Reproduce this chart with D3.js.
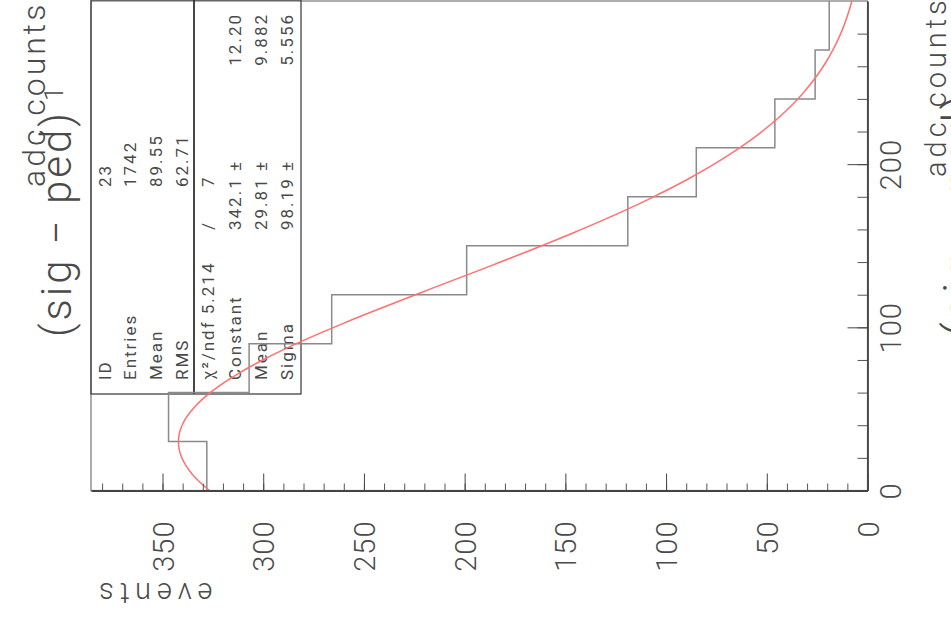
<!DOCTYPE html>
<html>
<head>
<meta charset="utf-8">
<script src="https://cdnjs.cloudflare.com/ajax/libs/d3/7.8.5/d3.min.js"></script>
<style>
  body { margin: 0; background: #fff; overflow: hidden; }
  svg text { font-family: 'Roboto', 'Liberation Sans', sans-serif; font-weight: 300; fill: #4a4a4a; }
</style>
</head>
<body>
<div id="chart"></div>
<script>

// histogram of (sig - ped)1, 10 bins of 30 adc counts
const binEdges = [0, 30, 60, 90, 120, 150, 180, 210, 240, 270, 300];
const binCounts = [328, 347, 307, 266, 199, 119, 85, 46, 26, 19];

const adcTicks = [0, 100, 200];
const eventTicks = [0, 50, 100, 150, 200, 250, 300, 350];

const statLabels = ['ID', 'Entries', 'Mean', 'RMS'];
const statValues = ['23', '1742', '89.55', '62.71'];

const fitLabels = ['χ²/ndf 5.214', 'Constant', 'Mean', 'Sigma'];
const fitValues = ['/', '342.1 ±', '29.81 ±', '98.19 ±'];
const fitErrors = ['7', '12.20', '9.882', '5.556'];

// gaussian fit result, as printed in the box
const fitConstant = 342.1;
const fitMean = 29.81;
const fitSigma = 98.19;

const width = 951;
const height = 619;

// the page is the usual histogram turned a quarter turn:
// adc counts run upward on the right, events run leftward at the bottom
const frame = { left: 91, top: 1, right: 867.5, bottom: 490.5 };

const svg = d3.select('#chart')
	.append('svg')
	.attr('width', width)
	.attr('height', height);

const adc = d3.scaleLinear()
	.domain([0, 300])
	.range([frame.bottom, frame.top]);

const events = d3.scaleLinear()
	.domain([0, 385.5])
	.range([frame.right, frame.left]);

// frame
svg.append('rect')
	.attr('x', frame.left)
	.attr('y', frame.top)
	.attr('width', frame.right - frame.left)
	.attr('height', frame.bottom - frame.top)
	.attr('fill', 'none')
	.attr('stroke', '#777')
	.attr('stroke-width', 1.2);

// stat box (no fill, histogram shows through)
const box = { left: 91, top: 0, right: 301, bottom: 394, split: 194 };

svg.append('rect')
	.attr('x', box.left)
	.attr('y', box.top)
	.attr('width', box.right - box.left)
	.attr('height', box.bottom - box.top)
	.attr('fill', 'none')
	.attr('stroke', '#444')
	.attr('stroke-width', 1.3);

svg.append('line')
	.attr('x1', box.split).attr('x2', box.split)
	.attr('y1', box.top).attr('y2', box.bottom)
	.attr('stroke', '#333')
	.attr('stroke-width', 1.8);

const vtext = (x, y, txt, size, anchor, spacing) => svg.append('text')
	.attr('transform', `translate(${x},${y}) rotate(-90)`)
	.attr('text-anchor', anchor || 'start')
	.attr('font-size', size)
	.attr('letter-spacing', spacing || 0)
	.text(txt);

const statRows = [111, 136, 162, 188];
statLabels.forEach((l, i) => {
	vtext(statRows[i], 380, l, 17, 'start', 2).style('font-weight', 400);
	vtext(statRows[i], 187, statValues[i], 17, 'start', 2).style('font-weight', 400);
});

const fitRows = [214, 241, 267, 293];
fitLabels.forEach((l, i) => {
	vtext(fitRows[i], 380, l, 17, 'start', 2).style('font-weight', 400);
	vtext(fitRows[i], 230, fitValues[i], 17, 'start', 2).style('font-weight', 400);
	if (i === 0) {
		vtext(fitRows[i], 187, fitErrors[i], 17, 'start', 2).style('font-weight', 400);
	} else {
		vtext(fitRows[i], 13, fitErrors[i], 17, 'end', 2).style('font-weight', 400);
	}
});

// histogram outline
const steps = [];
binCounts.forEach((c, i) => {
	steps.push([c, binEdges[i]]);
	steps.push([c, binEdges[i + 1]]);
});

svg.append('path')
	.datum(steps)
	.attr('fill', 'none')
	.attr('stroke', '#8a8a8a')
	.attr('stroke-width', 1.5)
	.attr('d', d3.line()
		.x(d => events(d[0]))
		.y(d => adc(d[1])));

// gaussian fit
const gaus = a => fitConstant * Math.exp(-0.5 * Math.pow((a - fitMean) / fitSigma, 2));

svg.append('path')
	.datum(d3.range(0, 300.5, 2))
	.attr('fill', 'none')
	.attr('stroke', '#ff7070')
	.attr('stroke-width', 1.5)
	.attr('d', d3.line()
		.x(a => events(gaus(a)))
		.y(a => adc(a)));

// adc axis on the right, ticks inward
const adcMinor = svg.append('g')
	.attr('transform', `translate(${frame.right},0)`)
	.style('color', '#555')
	.call(d3.axisRight(adc).tickValues(d3.range(0, 300, 20)).tickSize(-10).tickSizeOuter(0).tickFormat(''));
adcMinor.select('.domain').remove();

const adcAxis = svg.append('g')
	.attr('transform', `translate(${frame.right},0)`)
	.style('color', '#444')
	.call(d3.axisRight(adc).tickValues(adcTicks).tickSize(-20).tickSizeOuter(0));
adcAxis.select('.domain').attr('stroke-width', 1.8);
adcAxis.selectAll('.tick text')
	.attr('x', null).attr('dy', null)
	.attr('transform', 'translate(33,0) rotate(-90)')
	.attr('text-anchor', 'middle')
	.attr('font-size', 29)
	.attr('letter-spacing', 1)
	.attr('fill', '#4a4a4a');

// events axis at the bottom, ticks inward
const evMinor = svg.append('g')
	.attr('transform', `translate(0,${frame.bottom})`)
	.style('color', '#555')
	.call(d3.axisBottom(events).tickValues(d3.range(0, 385, 10)).tickSize(-7).tickSizeOuter(0).tickFormat(''));
evMinor.select('.domain').remove();

const evAxis = svg.append('g')
	.attr('transform', `translate(0,${frame.bottom})`)
	.style('color', '#444')
	.call(d3.axisBottom(events).tickValues(eventTicks).tickSize(-17).tickSizeOuter(0));
evAxis.select('.domain').attr('stroke-width', 1.8);
evAxis.selectAll('.tick text')
	.attr('y', null).attr('dy', null)
	.attr('transform', 'translate(10.5,30) rotate(-90)')
	.attr('text-anchor', 'end')
	.attr('font-size', 29)
	.attr('letter-spacing', 1)
	.attr('fill', '#4a4a4a');

// axis titles
svg.append('text')
	.attr('transform', 'translate(93,583) rotate(180)')
	.attr('text-anchor', 'end')
	.attr('font-size', 29)
	.attr('letter-spacing', 6)
	.text('events');

vtext(71, 337, '(sig − ped)', 42, 'start', 3);
vtext(63, 101, '1', 26);
vtext(45, 187, 'adc counts', 32, 'start', 3);

// x title under the turned axis, mostly past the page edge as in the original
vtext(946, 177, 'adc counts', 29, 'start', 4);
vtext(976, 337, '(sig − ped)', 46, 'start', 3);

</script>
</body>
</html>
